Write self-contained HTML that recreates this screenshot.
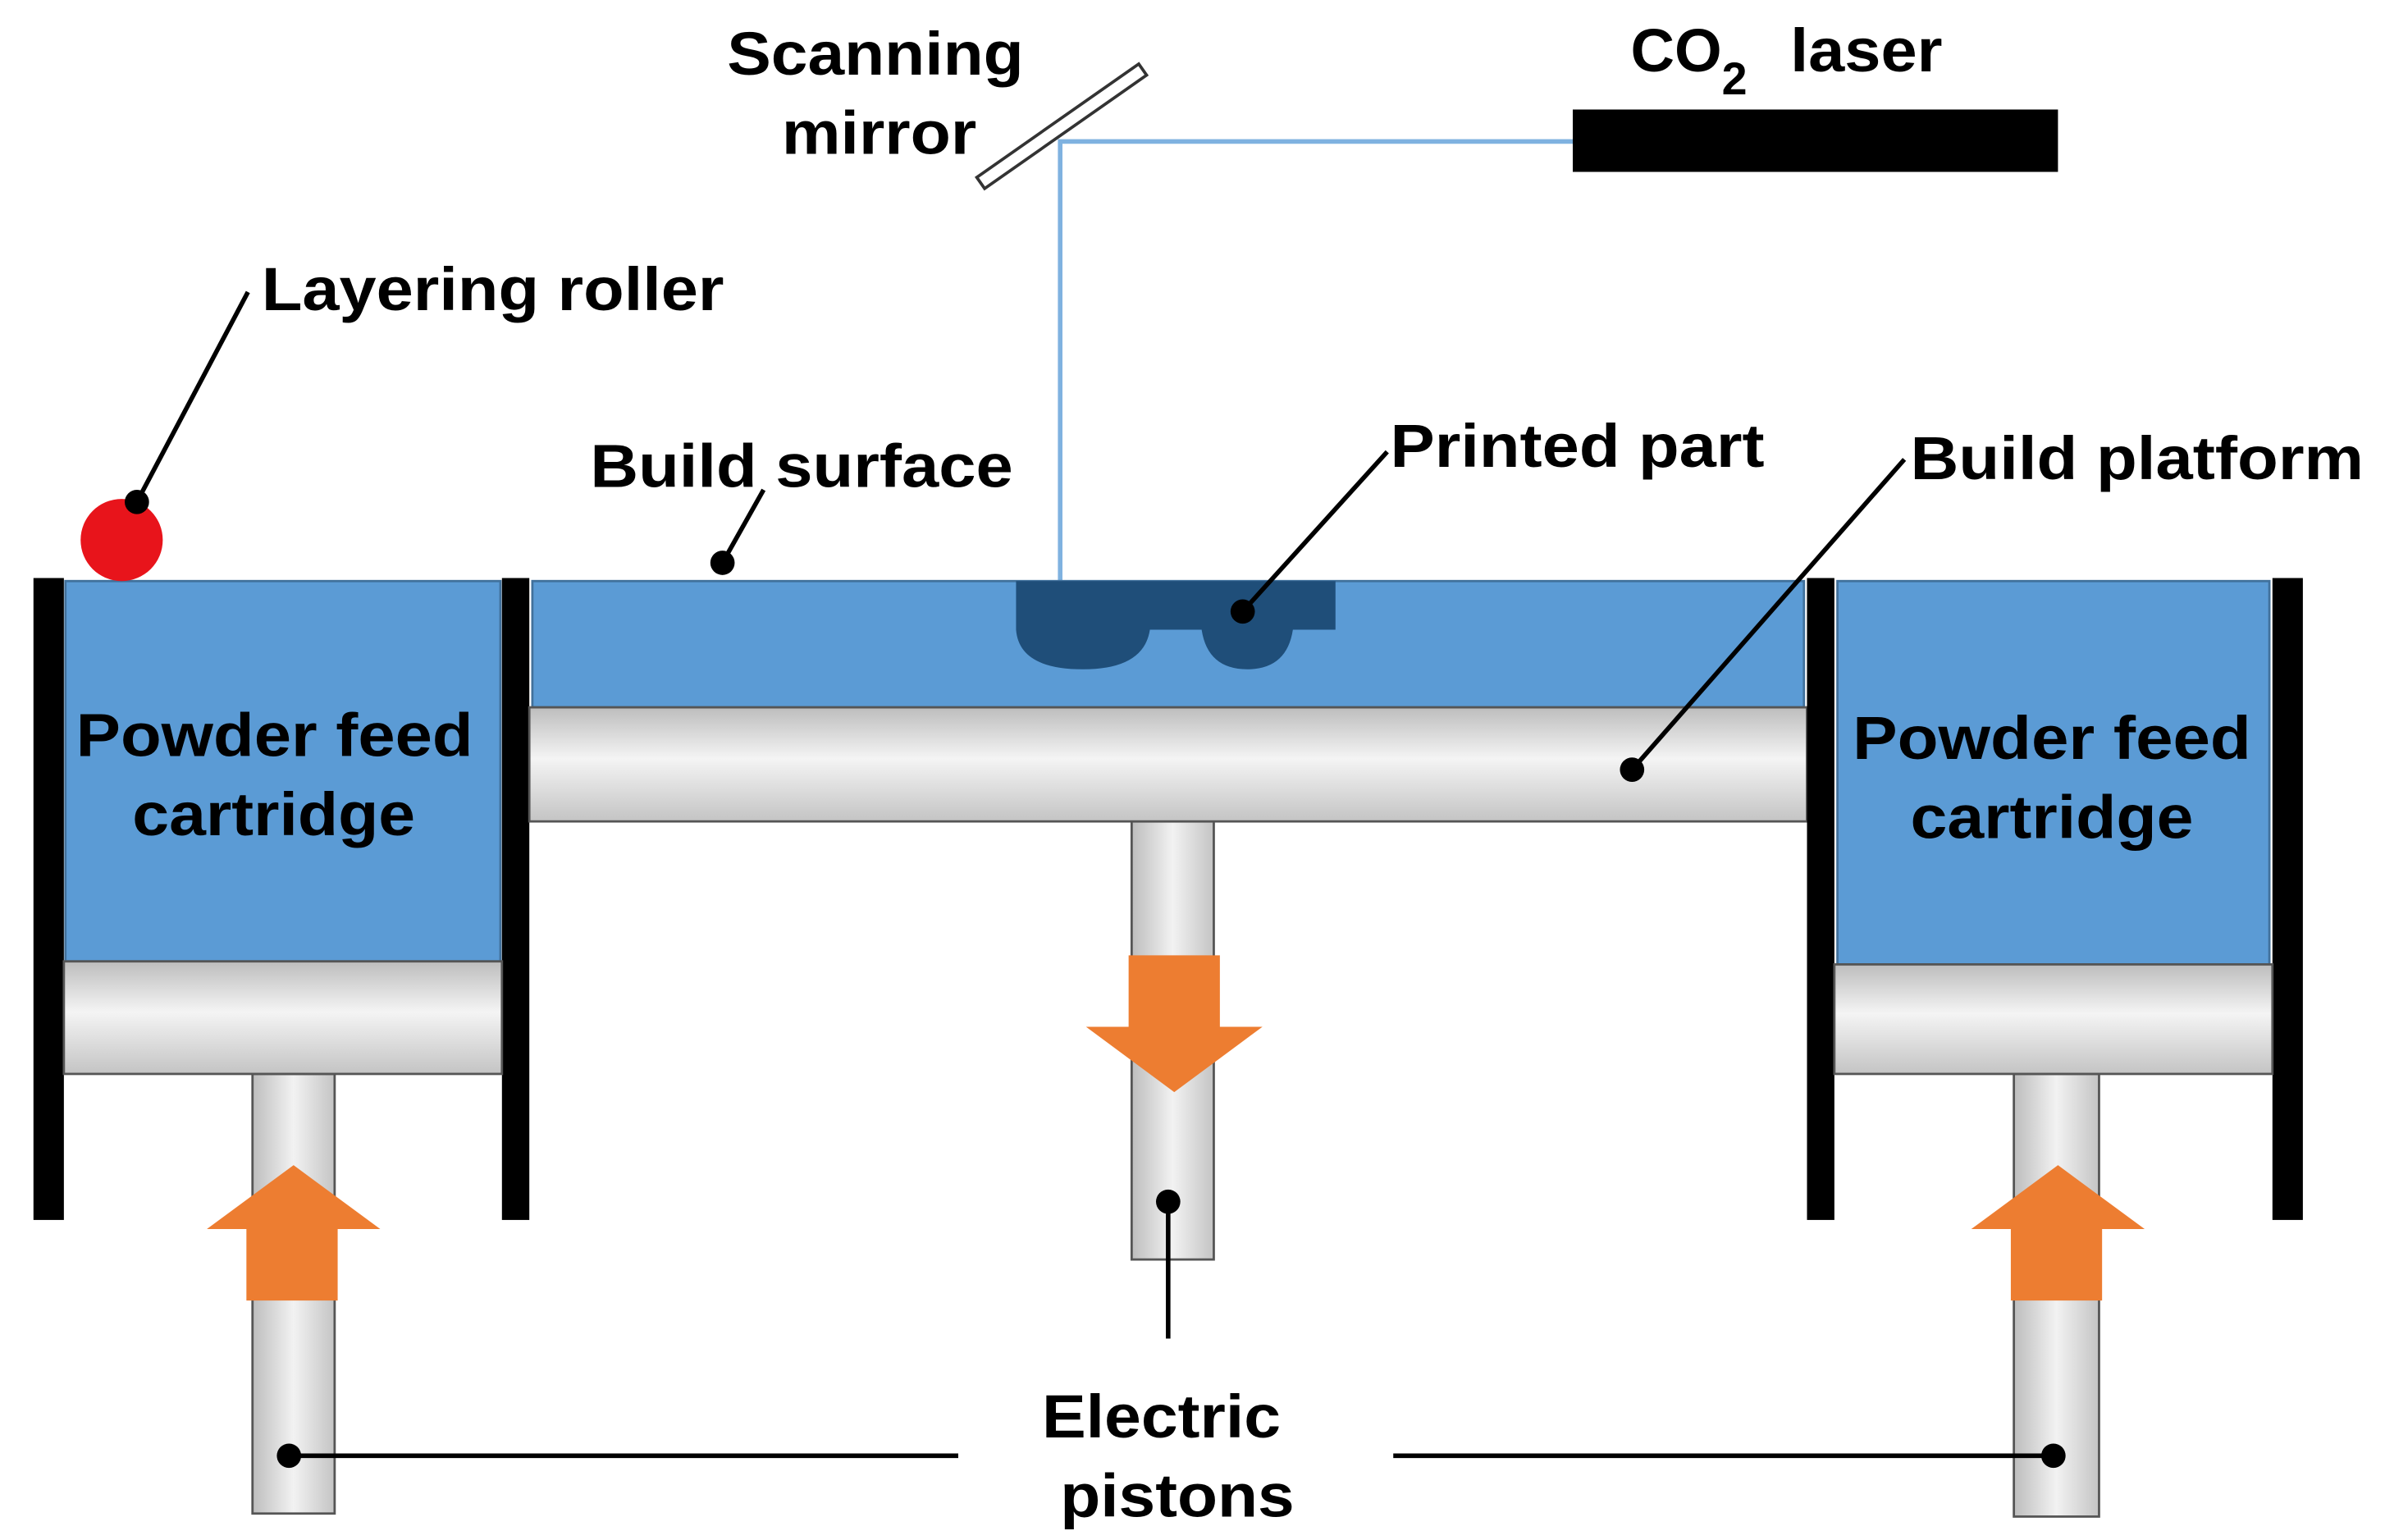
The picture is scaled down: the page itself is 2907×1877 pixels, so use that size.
<!DOCTYPE html>
<html><head><meta charset="utf-8"><style>
html,body{margin:0;padding:0;background:#fff;}
svg{display:block;}
text{font-family:"Liberation Sans",Arial,sans-serif;font-weight:bold;fill:#000;}
</style></head><body>
<svg width="2907" height="1877" viewBox="0 0 1568 1012.4" preserveAspectRatio="none" xmlns="http://www.w3.org/2000/svg">
<defs>
<linearGradient id="gv" x1="0" y1="0" x2="0" y2="1">
<stop offset="0" stop-color="#bdbdbd"/><stop offset="0.45" stop-color="#f4f4f4"/><stop offset="1" stop-color="#c4c4c4"/>
</linearGradient>
<linearGradient id="gh" x1="0" y1="0" x2="1" y2="0">
<stop offset="0" stop-color="#bdbdbd"/><stop offset="0.5" stop-color="#f2f2f2"/><stop offset="1" stop-color="#c4c4c4"/>
</linearGradient>
</defs>
<rect width="1568" height="1012.4" fill="#fff"/>
<polyline points="1034,93 697,93 697,382" fill="none" stroke="#7fb2e0" stroke-width="3"/>
<rect x="1034" y="72" width="319" height="41" fill="#000"/>
<g transform="translate(698,83) rotate(-35)">
<rect x="-65" y="-4.5" width="130" height="9" fill="#fff" stroke="#333" stroke-width="2"/>
</g>
<rect x="166" y="706" width="54" height="289" fill="url(#gh)" stroke="#555" stroke-width="1.5"/>
<rect x="744" y="540" width="54" height="288" fill="url(#gh)" stroke="#555" stroke-width="1.5"/>
<rect x="1324" y="706" width="56" height="291" fill="url(#gh)" stroke="#555" stroke-width="1.5"/>
<rect x="22" y="380" width="20" height="422" fill="#000"/>
<rect x="330" y="380" width="18" height="422" fill="#000"/>
<rect x="43" y="382" width="286" height="250" fill="#5b9bd5" stroke="#41719c" stroke-width="1.5"/>
<rect x="42" y="632" width="288" height="74" fill="url(#gv)" stroke="#555" stroke-width="1.5"/>
<rect x="350" y="382" width="836" height="83" fill="#5b9bd5" stroke="#41719c" stroke-width="1.5"/>
<rect x="348" y="465" width="840" height="75" fill="url(#gv)" stroke="#555" stroke-width="1.5"/>
<rect x="1188" y="380" width="18" height="422" fill="#000"/>
<rect x="1494" y="380" width="20" height="422" fill="#000"/>
<rect x="1208" y="382" width="284" height="252" fill="#5b9bd5" stroke="#41719c" stroke-width="1.5"/>
<rect x="1206" y="634" width="288" height="72" fill="url(#gv)" stroke="#555" stroke-width="1.5"/>
<path d="M668,382 H878 V414 H850 Q846,440 820,440 Q794,440 790,414 H756 Q752,440 712,440 Q670,440 668,414 Z" fill="#1f4e79"/>
<circle cx="80" cy="355" r="27" fill="#e8141b"/>
<g fill="#ed7d31">
<polygon points="162,855 222,855 222,808 250,808 193,766 136,808 162,808"/>
<polygon points="1322,855 1382,855 1382,808 1410,808 1353,766 1296,808 1322,808"/>
<polygon points="742,628 802,628 802,675 830,675 772,718 714,675 742,675"/>
</g>
<g stroke="#000" stroke-width="3" fill="none">
<line x1="163" y1="192" x2="90" y2="330"/>
<line x1="502" y1="322" x2="475" y2="370"/>
<line x1="912" y1="297" x2="817" y2="402"/>
<line x1="1252" y1="302" x2="1073" y2="506"/>
<line x1="768" y1="790" x2="768" y2="880"/>
<line x1="190" y1="957" x2="630" y2="957"/>
<line x1="916" y1="957" x2="1350" y2="957"/>
</g>
<g fill="#000">
<circle cx="90" cy="330" r="8"/><circle cx="475" cy="370" r="8"/><circle cx="817" cy="402" r="8"/>
<circle cx="1073" cy="506" r="8"/><circle cx="768" cy="790" r="8"/><circle cx="190" cy="957" r="8"/><circle cx="1350" cy="957" r="8"/>
</g>
<g font-size="40">
<text x="478" y="49" textLength="195" lengthAdjust="spacingAndGlyphs">Scanning</text>
<text x="514" y="101" textLength="128" lengthAdjust="spacingAndGlyphs">mirror</text>
<text x="1072" y="47">CO<tspan font-size="30" dy="15">2</tspan></text>
<text x="1177" y="47" textLength="100" lengthAdjust="spacingAndGlyphs">laser</text>
<text x="172" y="204" textLength="304" lengthAdjust="spacingAndGlyphs">Layering roller</text>
<text x="388" y="320" textLength="278" lengthAdjust="spacingAndGlyphs">Build surface</text>
<text x="914" y="307" textLength="246" lengthAdjust="spacingAndGlyphs">Printed part</text>
<text x="1256" y="315" textLength="298" lengthAdjust="spacingAndGlyphs">Build platform</text>
<text x="50" y="497" textLength="261" lengthAdjust="spacingAndGlyphs">Powder feed</text>
<text x="87" y="549" textLength="186" lengthAdjust="spacingAndGlyphs">cartridge</text>
<text x="1218" y="499" textLength="262" lengthAdjust="spacingAndGlyphs">Powder feed</text>
<text x="1256" y="551" textLength="186" lengthAdjust="spacingAndGlyphs">cartridge</text>
<text x="685" y="945" textLength="157" lengthAdjust="spacingAndGlyphs">Electric</text>
<text x="697" y="997" textLength="154" lengthAdjust="spacingAndGlyphs">pistons</text>
</g>
</svg>
</body></html>
